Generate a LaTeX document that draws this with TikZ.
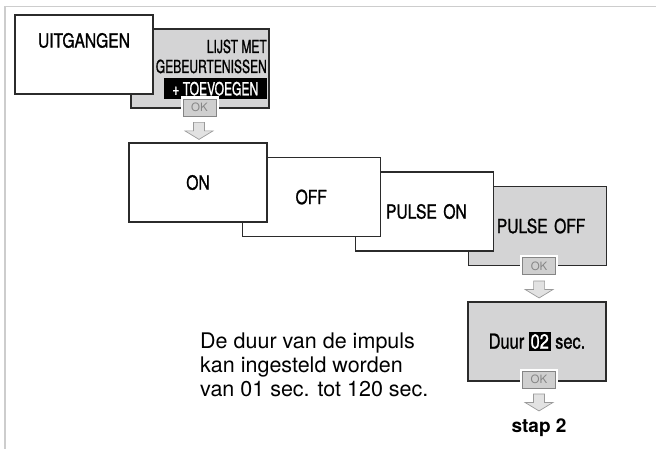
\documentclass[tikz,border=0pt]{standalone}
\usepackage{fontspec}
\setsansfont{TeX Gyre Heros}
\newfontfamily\condfont[FakeStretch=0.8,FakeBold=1.2]{TeX Gyre Heros}
\newfontfamily\narrowfont[FakeStretch=0.67,FakeBold=1]{TeX Gyre Heros}
\usepackage{tikz}
\usetikzlibrary{positioning,calc}
\definecolor{PanelGray}{HTML}{D4D4D5}
\definecolor{EdgeGray}{HTML}{2B2B2B}
\definecolor{KeyGray}{HTML}{CFCFCF}
\definecolor{KeyText}{HTML}{858585}
\definecolor{FrameGray}{HTML}{CDCDCD}
\definecolor{ArrowFill}{HTML}{E2E2E2}
\definecolor{ArrowEdge}{HTML}{9A9A9A}

% hollow arrow hanging under a named coordinate
\newcommand{\okarrow}[1]{%
  \draw[arrowshape] ($(#1)+(-5.5,0)$) -- ($(#1)+(-5.5,8.5)$) -- ($(#1)+(-14,8.5)$)
    -- ($(#1)+(0,17)$) -- ($(#1)+(14,8.5)$) -- ($(#1)+(5.5,8.5)$) -- ($(#1)+(5.5,0)$) -- cycle;}

\begin{document}
\begin{tikzpicture}[x=1pt,y=-1pt,
  screen/.style={draw=EdgeGray,line width=1.1pt,minimum width=138pt,minimum height=79pt,inner sep=0pt,
    font=\condfont\fontsize{19.5}{22}\selectfont},
  okkey/.style={fill=KeyGray,draw=KeyText,line width=0.8pt,minimum width=33pt,minimum height=17pt,inner sep=0pt,
    text=KeyText,font=\sffamily\fontsize{11.5}{11.5}\selectfont,preaction={draw=white,line width=5pt}},
  arrowshape/.style={fill=ArrowFill,draw=ArrowEdge,line width=0.7pt,line join=miter},
  menutext/.style={inner sep=0pt,font=\narrowfont\fontsize{18}{20}\selectfont}]
  \useasboundingbox (0,0) rectangle (656,449);
  \draw[FrameGray,line width=1.5pt] (5,449) -- (5,6.5) -- (656,6.5);

  % menu
  \node[screen,fill=PanelGray] (lijst) at (200,68.5) {};
  \node[menutext,anchor=base east] (lijst1) at (267,53) {LIJST MET};
  \node[menutext,anchor=base east] (lijst2) at (267,73) {GEBEURTENISSEN};
  \node[menutext,anchor=north east,fill=black,text=white,minimum width=103pt,minimum height=21pt] (add) at (267,78) {+ TOEVOEGEN};
  \node[screen,fill=white] (uitg) at (84,54.5) {};
  \node[screen,draw=none,minimum size=0pt,below=18pt of uitg.north] (uitgtxt) {UITGANGEN};
  \node[okkey] (ok1) at (199.5,107.5) {OK};
  \coordinate (a1) at ($(ok1.south)+(-0.5,6)$);
  \okarrow{a1}

  % choices, back to front
  \foreach \i/\txt/\col/\dx in {3/PULSE OFF/PanelGray/7, 2/PULSE ON/white/4, 1/OFF/white/0, 0/ON/white/0}{
    \node[screen,fill=\col,text width=138pt,align=center] (s\i) at (198+113.2*\i,182.5+14.5*\i) {\hspace*{\dx pt}\txt};
  }
  \node[okkey] (ok2) at ($(s3.south)+(1.5,0)$) {OK};
  \coordinate (a2) at ($(ok2.south)+(0,6)$);
  \okarrow{a2}

  \node[screen,fill=PanelGray,font=\condfont\fontsize{20.5}{22}\selectfont] (duur) at (537,341.5)
    {Duur \fboxsep=1.8pt\colorbox{black}{\textcolor{white}{02}} sec.};
  \node[okkey] (ok3) at ($(duur.south)+(2,-2)$) {OK};
  \coordinate (a3) at ($(ok3.south)+(0,5.5)$);
  \okarrow{a3}
  \node[font=\sffamily\bfseries\fontsize{19}{20}\selectfont,anchor=base] (stap) at ($(a3)+(0,39)$) {stap 2};

  % multi-line node: base is the last line
  \node[anchor=base west,align=left,inner sep=0pt,font=\sffamily\fontsize{21.5}{24}\selectfont] (uitleg) at (200,396)
    {De duur van de impuls\\kan ingesteld worden\\van 01 sec. tot 120 sec.};
\end{tikzpicture}
\end{document}
